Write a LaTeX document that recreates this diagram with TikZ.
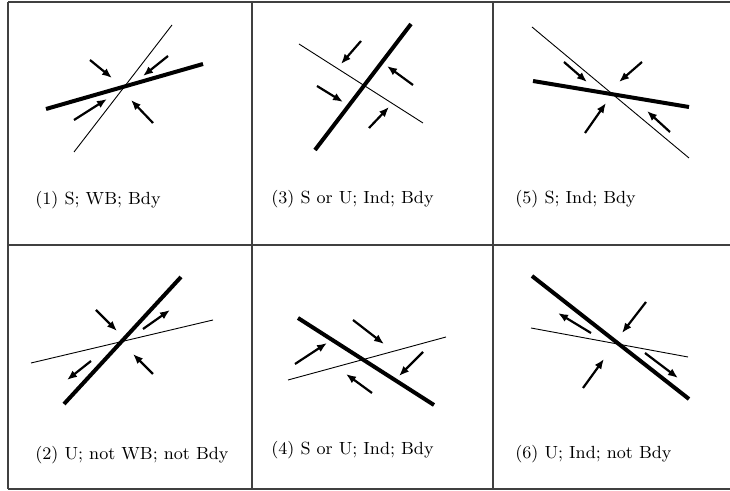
\documentclass[tikz,border=0pt]{standalone}
\usetikzlibrary{arrows.meta}
\begin{document}
\begin{tikzpicture}[x=0.5pt,y=-0.5pt,
  gridln/.style={line width=0.7pt, black!75},
  thinln/.style={line width=0.45pt},
  thickln/.style={line width=2pt},
  force/.style={line width=1.1pt,-{Latex[length=5pt,width=4pt]}},
  lbl/.style={anchor=base west, font=\fontsize{8.8}{10}\selectfont, inner sep=0pt}]
\useasboundingbox (0,0) rectangle (730,491);
% grid
\draw[gridln] (8,2) -- (730,2);
\draw[gridln] (8,245) -- (730,245);
\draw[gridln] (8,489) -- (730,489);
\draw[gridln] (8,2) -- (8,489);
\draw[gridln] (252,2) -- (252,489);
\draw[gridln] (493,2) -- (493,489);
% cell 1
\draw[thinln] (74,152) -- (172,25);
\draw[thickln] (46,109) -- (203,64);
\draw[force] (90,60) -- (112,78);
\draw[force] (168,56) -- (143,76);
\draw[force] (74,120) -- (107,99);
\draw[force] (153,123) -- (131,100);
\node[lbl] (l1) at (35,205) {(1) S; WB; Bdy};
% cell 3
\draw[thinln] (299,44) -- (423,123);
\draw[thickln] (315,150) -- (411,24);
\draw[force] (361,41) -- (341,64);
\draw[force] (413,85) -- (387,66);
\draw[force] (317,86) -- (343,102);
\draw[force] (369,128) -- (389,107);
\node[lbl] (l3) at (271,204) {(3) S or U; Ind; Bdy};
% cell 5
\draw[thinln] (532,27) -- (689,158);
\draw[thickln] (533,81) -- (689,107);
\draw[force] (564,62) -- (587,82);
\draw[force] (642,62) -- (619,82);
\draw[force] (585,133) -- (606,103);
\draw[force] (670,132) -- (647,111);
\node[lbl] (l5) at (515,204) {(5) S; Ind; Bdy};
% cell 2
\draw[thinln] (31,363) -- (213,320);
\draw[thickln] (64,404) -- (181,277);
\draw[force] (96,310) -- (117,331);
\draw[force] (143,329) -- (170,310);
\draw[force] (91,361) -- (67,380);
\draw[force] (153,374) -- (133,354);
\node[lbl] (l2) at (35,460) {(2) U; not WB; not Bdy};
% cell 4
\draw[thinln] (288,380) -- (446,337);
\draw[thickln] (298,318) -- (434,405);
\draw[force] (295,364) -- (327,343);
\draw[force] (353,320) -- (384,344);
\draw[force] (423,352) -- (399,376);
\draw[force] (372,393) -- (346,374);
\node[lbl] (l4) at (271,455) {(4) S or U; Ind; Bdy};
% cell 6
\draw[thinln] (531,328) -- (688,357);
\draw[thickln] (532,276) -- (689,399);
\draw[force] (646,302) -- (622,333);
\draw[force] (591,333) -- (558,313);
\draw[force] (645,353) -- (678,378);
\draw[force] (583,388) -- (604,359);
\node[lbl] (l6) at (515,459) {(6) U; Ind; not Bdy};
\end{tikzpicture}
\end{document}
